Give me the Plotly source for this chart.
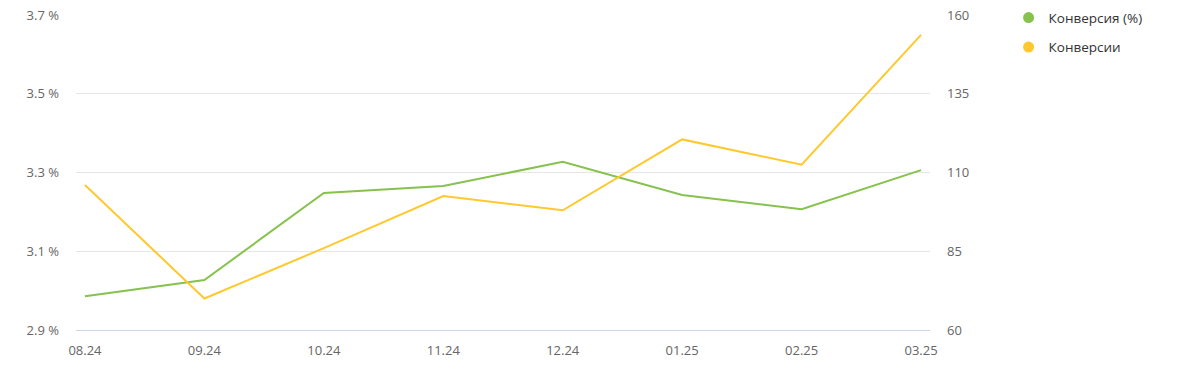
import plotly.graph_objects as go

months = ["08.24", "09.24", "10.24", "11.24", "12.24", "01.25", "02.25", "03.25"]
conv_rate = [2.986, 3.027, 3.248, 3.266, 3.327, 3.243, 3.207, 3.306]
conversions = [106, 70, 86, 102.5, 98, 120.5, 112.5, 153.7]

left_ticks = [2.9, 3.1, 3.3, 3.5, 3.7]
right_ticks = [60, 85, 110, 135, 160]

GREEN = "#86C24D"
YELLOW = "#FFC82C"
FONT = "Open Sans"

fig = go.Figure()
fig.add_trace(go.Scatter(
    x=list(range(len(months))), y=conv_rate, name="Конверсия (%)", mode="lines",
    line=dict(color=GREEN, width=2), yaxis="y", showlegend=False,
))
fig.add_trace(go.Scatter(
    x=list(range(len(months))), y=conversions, name="Конверсии", mode="lines",
    line=dict(color=YELLOW, width=2), yaxis="y2", showlegend=False,
))
# legend entries shown as circles
fig.add_trace(go.Scatter(
    x=[None], y=[None], name="Конверсия (%)", mode="markers", legendgroup="a",
    marker=dict(symbol="circle", size=11, color=GREEN), yaxis="y",
))
fig.add_trace(go.Scatter(
    x=[None], y=[None], name="Конверсии", mode="markers", legendgroup="b",
    marker=dict(symbol="circle", size=11, color=YELLOW), yaxis="y2",
))

fig.update_layout(
    width=1200, height=382,
    margin=dict(l=76, r=270, t=15, b=52, autoexpand=False),
    paper_bgcolor="white", plot_bgcolor="white",
    font=dict(family=FONT, size=13, color="#666666"),
    showlegend=True,
    legend=dict(
        x=1.092, y=0.994, xanchor="left", yanchor="top",
        xref="paper", yref="container",
        font=dict(family=FONT, size=13.5, color="#333333"),
        traceorder="grouped", tracegroupgap=9, itemwidth=30,
    ),
    xaxis=dict(
        tickmode="array", tickvals=list(range(len(months))), ticktext=months,
        range=[-0.075, len(months) - 1 + 0.075],
        showgrid=False, zeroline=False,
        showline=True, linecolor="#ccd6eb", linewidth=1,
        ticks="", ticklabelstandoff=8,
        tickfont=dict(size=13, color="#666666"),
    ),
    yaxis=dict(
        range=[2.9, 3.7], tickmode="array", tickvals=left_ticks,
        ticktext=[f"{v:.1f} %" for v in left_ticks],
        showgrid=True, gridcolor="#e6e6e6", gridwidth=1,
        zeroline=False, showline=False, ticks="",
        ticklabelstandoff=16,
        tickfont=dict(size=13, color="#666666"),
    ),
    yaxis2=dict(
        range=[60, 160], overlaying="y", side="right",
        tickmode="array", tickvals=right_ticks,
        showgrid=False, zeroline=False, showline=False, ticks="",
        ticklabelstandoff=16,
        tickfont=dict(size=13, color="#666666"),
    ),
)

fig.write_html("out.html")
